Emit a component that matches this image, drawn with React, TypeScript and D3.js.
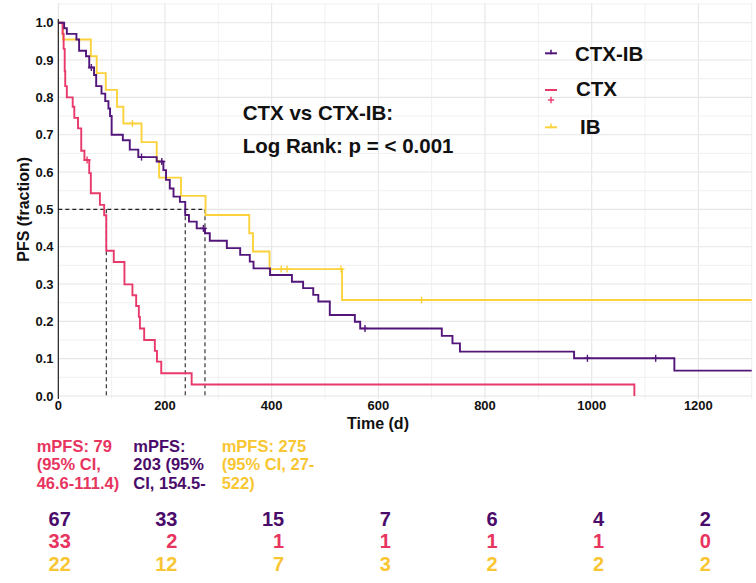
import React from "react";
import * as d3 from "d3";

// ---------- data ----------
const timeTicks = [0, 200, 400, 600, 800, 1000, 1200];
const survTicks = [0, 0.1, 0.2, 0.3, 0.4, 0.5, 0.6, 0.7, 0.8, 0.9, 1.0];
const timeMax = 1300;

// CTX-IB (purple)
const ctxibTimes = [0, 11, 16, 34, 39, 52, 58, 67, 71, 81, 88, 94, 97, 100, 121, 134, 150, 184.5, 197, 202, 209, 216, 228, 238, 245, 259.5, 275, 284, 316, 341, 359, 366, 397, 438, 459, 478, 487.5, 509, 556, 566, 719, 739, 753, 967, 1155];
const ctxibSurv = [1, 0.985, 0.97, 0.955, 0.925, 0.91, 0.88, 0.86, 0.83, 0.81, 0.79, 0.77, 0.75, 0.7, 0.685, 0.66, 0.64, 0.628, 0.605, 0.579, 0.556, 0.534, 0.52, 0.485, 0.467, 0.449, 0.436, 0.416, 0.396, 0.378, 0.36, 0.342, 0.324, 0.306, 0.289, 0.271, 0.253, 0.217, 0.199, 0.181, 0.161, 0.141, 0.119, 0.101, 0.068];
const ctxibCensor = [62, 156, 194, 272, 575, 992, 1120];

// CTX (red)
const ctxTimes = [0, 8, 10, 12, 13, 16, 27, 30, 37, 43, 49, 58, 61, 78, 86, 90, 104, 124, 139, 146, 151, 153, 161, 181, 185, 193, 250, 1080];
const ctxSurv = [1, 0.97, 0.93, 0.87, 0.83, 0.8, 0.775, 0.745, 0.717, 0.657, 0.632, 0.597, 0.543, 0.512, 0.484, 0.389, 0.359, 0.299, 0.27, 0.241, 0.212, 0.181, 0.15, 0.121, 0.092, 0.061, 0.031, 0];
const ctxCensor = [54];

// IB (yellow)
const ibTimes = [0, 9, 61, 72, 89, 110, 122, 156, 184.5, 189, 230, 276, 358, 365, 396, 532];
const ibSurv = [1, 0.955, 0.91, 0.865, 0.82, 0.775, 0.73, 0.68, 0.63, 0.585, 0.536, 0.485, 0.436, 0.387, 0.34, 0.257];
const ibCensor = [139, 418, 429, 530, 681];

const medianTimes = [90, 238, 275];

const legendLabels = ["CTX-IB", "CTX", "IB"];

const mpfsCTX = ["mPFS: 79", "(95% CI,", "46.6-111.4)"];
const mpfsCTXIB = ["mPFS:", "203 (95%", "CI, 154.5-"];
const mpfsIB = ["mPFS: 275", "(95% CI, 27-", "522)"];

const riskCTXIB = [67, 33, 15, 7, 6, 4, 2];
const riskCTX = [33, 2, 1, 1, 1, 1, 0];
const riskIB = [22, 12, 7, 3, 2, 2, 2];

// ---------- styling ----------
const PURPLE = "#52157A";
const PURPLE_TXT = "#4A0B6A";
const RED = "#E8396A";
const RED_TXT = "#E7355F";
const YELLOW = "#FBD23C";
const YELLOW_TXT = "#F9C633";
const FONT = "'Liberation Sans', Arial, Helvetica, sans-serif";

const W = 756;
const H = 583;

const x = d3.scaleLinear().domain([0, timeMax]).range([58.3, 751.7]);
const y = d3.scaleLinear().domain([0, 1]).range([396, 22.7]);

function stepValue(times: number[], surv: number[], t: number) {
  let v = surv[0];
  for (let i = 0; i < times.length; i++) if (times[i] <= t) v = surv[i];
  return v;
}

function curvePath(times: number[], surv: number[], end: number | null) {
  const pts: [number, number][] = times.map((t, i) => [t, surv[i]]);
  if (end !== null) pts.push([end, surv[surv.length - 1]]);
  const line = d3
    .line<[number, number]>()
    .x((d) => x(d[0]))
    .y((d) => y(d[1]))
    .curve(d3.curveStepAfter);
  return line(pts) || "";
}

function Cross({ cx, cy, color, s = 3.5 }: { cx: number; cy: number; color: string; s?: number }) {
  return (
    <g stroke={color} strokeWidth={1.4}>
      <line x1={cx - s} x2={cx + s} y1={cy} y2={cy} />
      <line x1={cx} x2={cx} y1={cy - s} y2={cy + s} />
    </g>
  );
}

export default function App() {
  const minorX = d3.range(0, timeMax + 1, 100);
  const gridY = d3.range(0, 1.051, 0.05);
  const series = [
    { times: ibTimes, surv: ibSurv, censor: ibCensor, color: YELLOW, end: timeMax },
    { times: ctxTimes, surv: ctxSurv, censor: ctxCensor, color: RED, end: null },
    { times: ctxibTimes, surv: ctxibSurv, censor: ctxibCensor, color: PURPLE, end: timeMax },
  ];
  const maxMedian = d3.max(medianTimes) as number;
  const riskRows = [
    { vals: riskCTXIB, color: PURPLE_TXT, base: 525.7 },
    { vals: riskCTX, color: RED_TXT, base: 548.3 },
    { vals: riskIB, color: YELLOW_TXT, base: 570.5 },
  ];
  const mpfs = [
    { lines: mpfsCTX, color: RED_TXT, x0: 36.7 },
    { lines: mpfsCTXIB, color: PURPLE_TXT, x0: 133.3 },
    { lines: mpfsIB, color: YELLOW_TXT, x0: 221.7 },
  ];
  const legend = [
    { label: legendLabels[0], color: PURPLE, txt: "#111", keyY: 53.3, tx: 575, ty: 60.7, split: false },
    { label: legendLabels[1], color: RED, txt: "#111", keyY: 90, tx: 576, ty: 96, split: true },
    { label: legendLabels[2], color: YELLOW, txt: "#111", keyY: 127.3, tx: 580, ty: 134, split: false },
  ];

  return (
    <svg
      width={W}
      height={H}
      style={{ position: "absolute", left: 0, top: 0, background: "#fff" }}
      fontFamily={FONT}
    >
      <rect x={0} y={0} width={W} height={H} fill="#fff" />
      {/* grid */}
      <g>
        {minorX.map((t) => (
          <line key={"gx" + t} x1={x(t)} x2={x(t)} y1={3} y2={399} stroke={t % 200 === 0 ? "#E6E6E6" : "#EEEEEE"} strokeWidth={t % 200 === 0 ? 1.1 : 0.9} />
        ))}
        {gridY.map((v, i) => (
          <line key={"gy" + i} x1={x(0)} x2={x(timeMax)} y1={y(v)} y2={y(v)} stroke={i % 2 === 0 ? "#E6E6E6" : "#EEEEEE"} strokeWidth={i % 2 === 0 ? 1.1 : 0.9} />
        ))}
      </g>

      {/* median guide lines */}
      <g stroke="#222" strokeWidth={1.1} strokeDasharray="4,3" fill="none">
        <line x1={x(0)} x2={x(maxMedian)} y1={y(0.5)} y2={y(0.5)} />
        {medianTimes.map((m) => (
          <line key={"m" + m} x1={x(m)} x2={x(m)} y1={y(0.5)} y2={y(0)} />
        ))}
      </g>

      {/* curves */}
      {series.map((s, i) => (
        <g key={"s" + i}>
          <path d={curvePath(s.times, s.surv, s.end)} fill="none" stroke={s.color} strokeWidth={1.9} />
          {s.censor.map((c) => (
            <Cross key={"c" + c} cx={x(c)} cy={y(stepValue(s.times, s.surv, c))} color={s.color} />
          ))}
        </g>
      ))}

      {/* y axis */}
      <line x1={x(0)} x2={x(0)} y1={19} y2={399} stroke="#111" strokeWidth={1.1} />
      {survTicks.map((v) => (
        <text key={"yt" + v} x={53.5} y={y(v)} dy="0.35em" textAnchor="end" fontSize={13} fontWeight="bold" fill="#111">
          {v.toFixed(1)}
        </text>
      ))}
      {timeTicks.map((t) => (
        <text key={"xt" + t} x={x(t)} y={410} textAnchor="middle" fontSize={13} fontWeight="bold" fill="#111">
          {t}
        </text>
      ))}
      <text x={378} y={428.5} textAnchor="middle" fontSize={16} fontWeight="bold" fill="#111">
        Time (d)
      </text>
      <text transform={`translate(28.5,${(y(0) + y(1)) / 2}) rotate(-90)`} textAnchor="middle" fontSize={16} fontWeight="bold" fill="#111">
        PFS (fraction)
      </text>

      {/* annotation */}
      <text x={242.7} y={120} fontSize={20.5} fontWeight="bold" fill="#111">
        CTX vs CTX-IB:
      </text>
      <text x={242.7} y={153.3} fontSize={20.5} fontWeight="bold" fill="#111">
        Log Rank: p = &lt; 0.001
      </text>

      {/* legend */}
      {legend.map((l) => (
        <g key={l.label}>
          <line x1={545} x2={557} y1={l.keyY} y2={l.keyY} stroke={l.color} strokeWidth={2} />
          {l.split ? (
            <Cross cx={551} cy={l.keyY + 10} color={l.color} s={3.2} />
          ) : (
            <line x1={551} x2={551} y1={l.keyY - 3.5} y2={l.keyY + 1} stroke={l.color} strokeWidth={1.6} />
          )}
          <text x={l.tx} y={l.ty} fontSize={20.5} fontWeight="bold" fill={l.txt}>
            {l.label}
          </text>
        </g>
      ))}

      {/* median PFS text */}
      {mpfs.map((m) => (
        <g key={"mp" + m.x0}>
          {m.lines.map((ln, j) => (
            <text key={j} x={m.x0} y={451.7 + j * 18.7} fontSize={16.5} fontWeight="bold" fill={m.color}>
              {ln}
            </text>
          ))}
        </g>
      ))}

      {/* numbers at risk */}
      {riskRows.map((r, ri) => (
        <g key={"r" + ri}>
          {r.vals.map((v, j) => (
            <text key={j} x={x(timeTicks[j]) + 12.5} y={r.base} textAnchor="end" fontSize={20} fontWeight="bold" fill={r.color}>
              {v}
            </text>
          ))}
        </g>
      ))}
    </svg>
  );
}
